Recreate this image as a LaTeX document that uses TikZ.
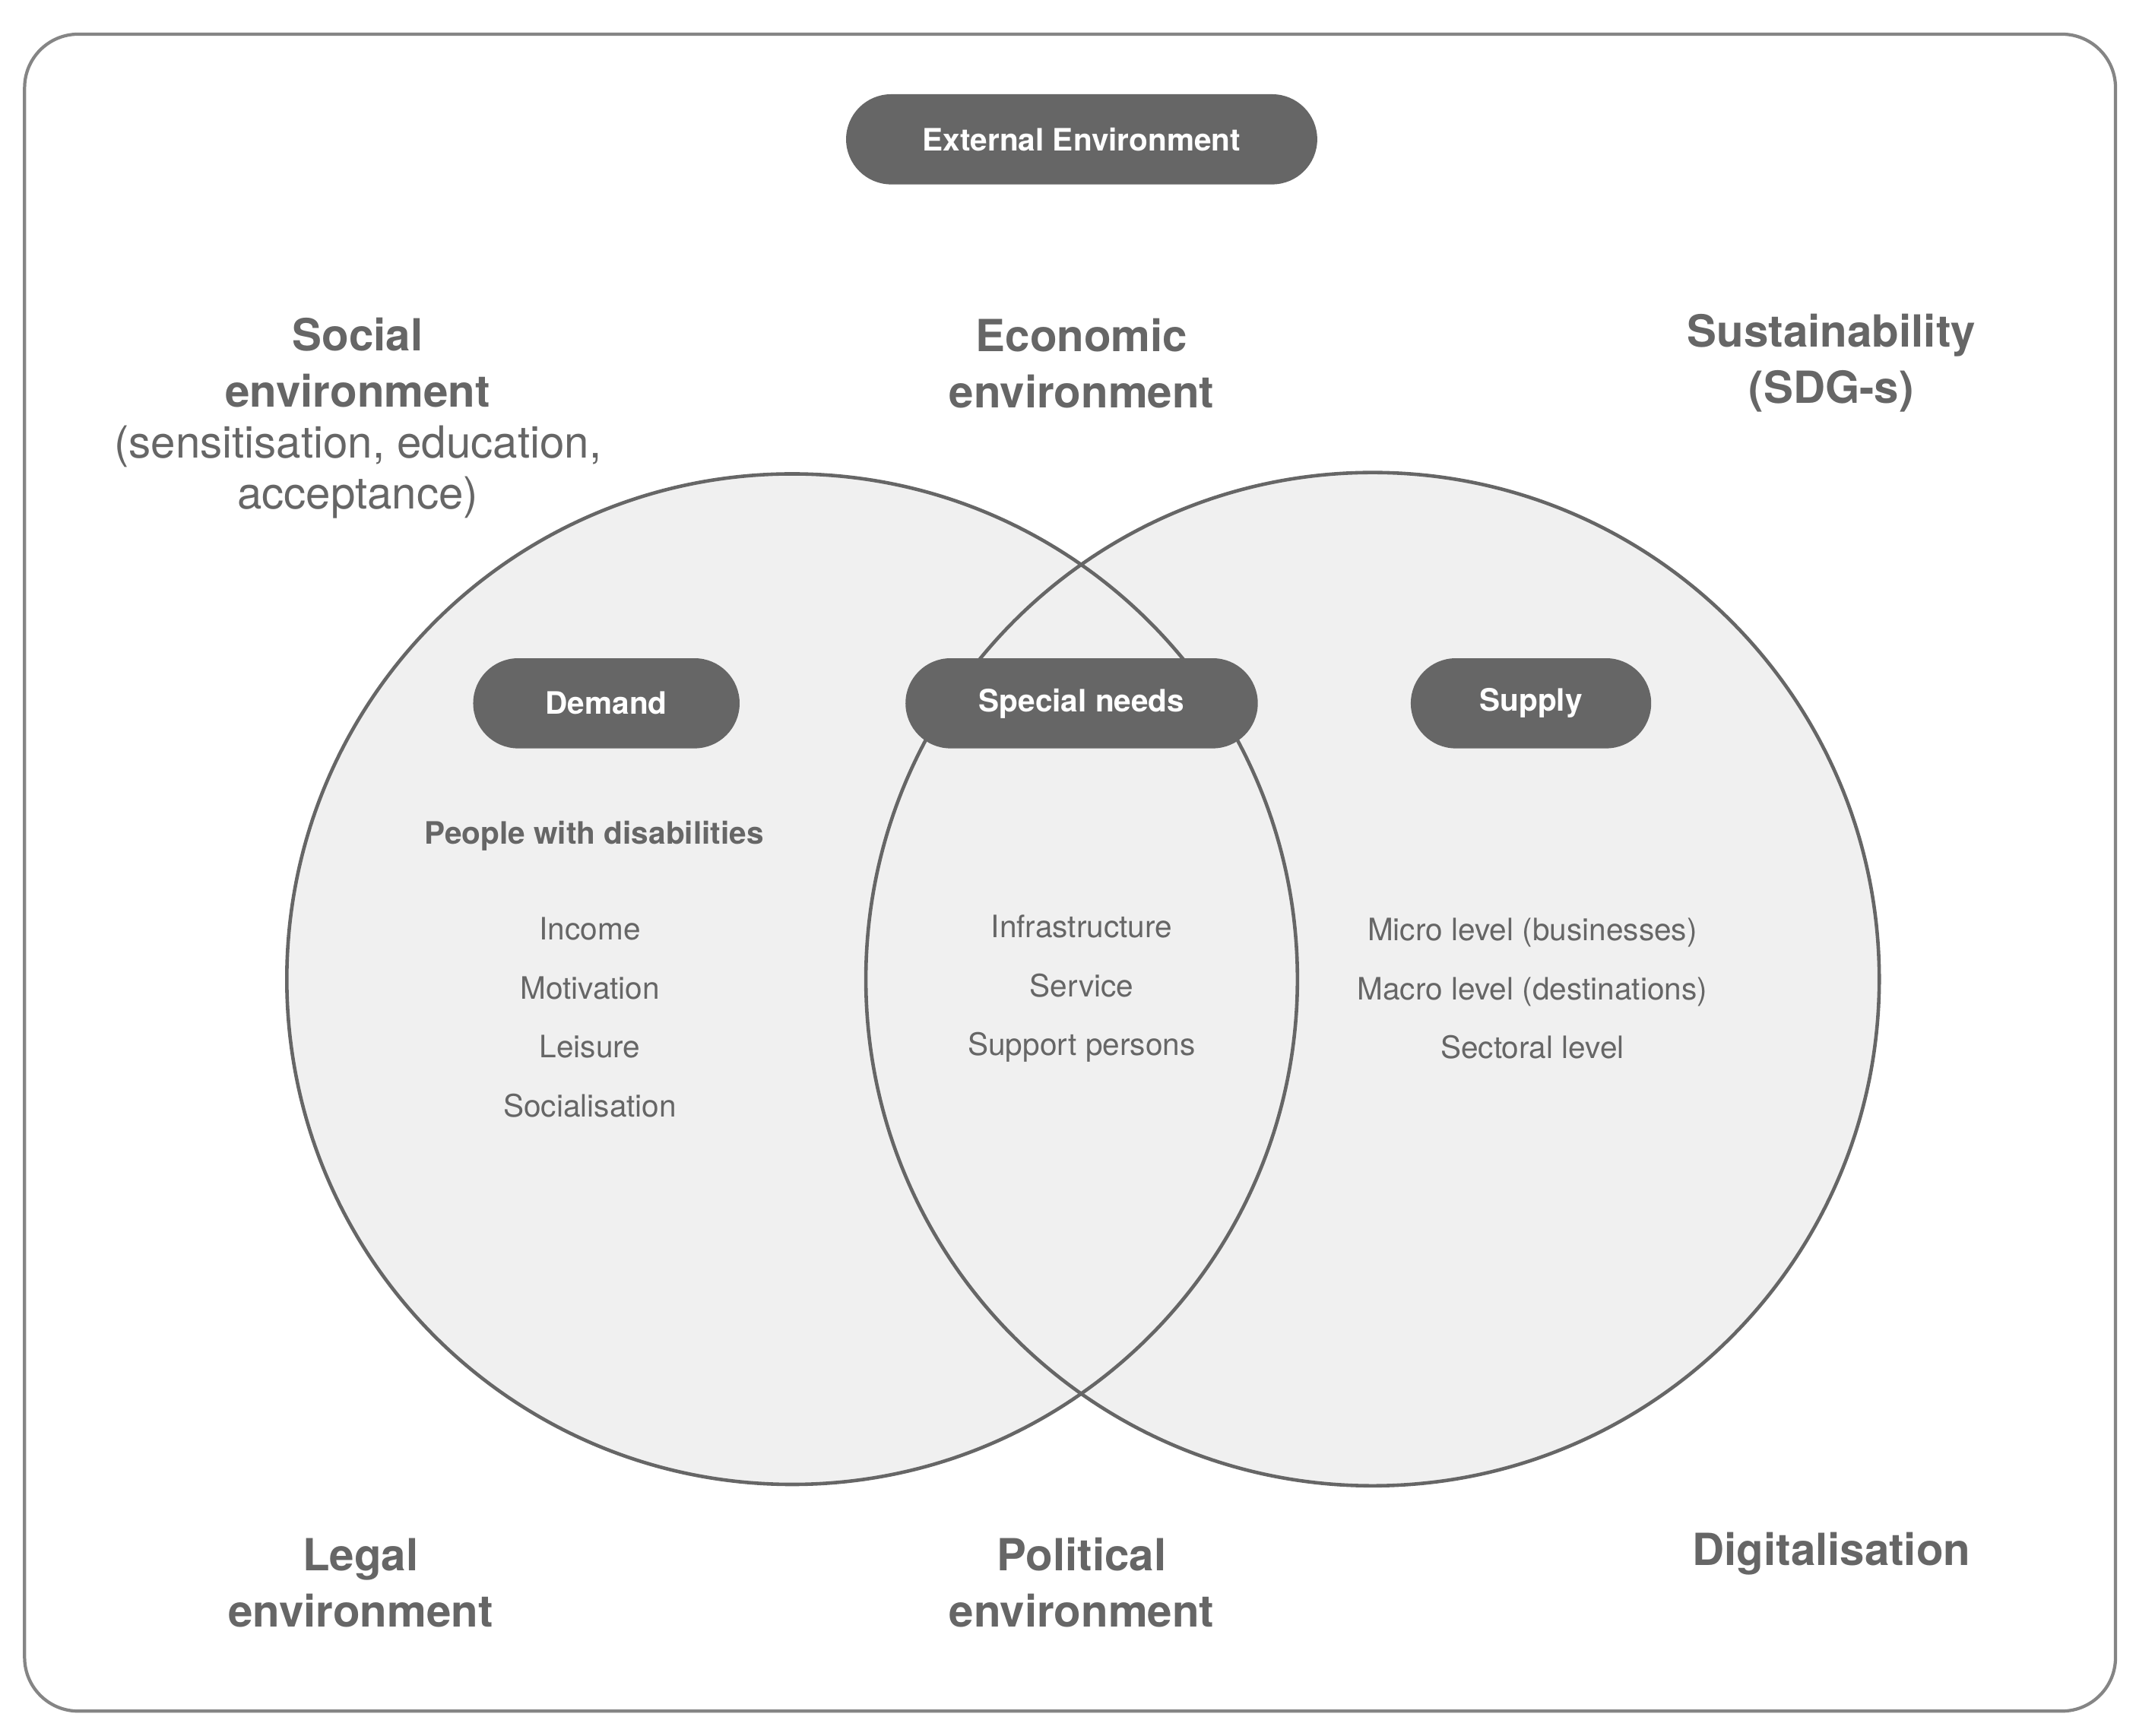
\documentclass[tikz,border=0pt]{standalone}
\usepackage{fontspec}
\setmainfont{TeX Gyre Heros}
\begin{document}
\begin{tikzpicture}[x={(0.509pt,0)},y={(0,-0.509pt)},
  pill/.style={rounded corners=33*0.509pt,fill=pillgray,text=white,font=\fontsize{11.5}{13}\selectfont\bfseries,minimum height=33.6pt,inner sep=0pt},
  head/.style={text=txtgray,font=\fontsize{16.5}{21}\selectfont\bfseries,align=center},
  item/.style={text=txtgray,font=\fontsize{11.5}{22}\selectfont,align=center}]
\definecolor{pillgray}{HTML}{666666}
\definecolor{txtgray}{HTML}{666666}
\definecolor{circfill}{HTML}{F0F0F0}
\useasboundingbox (0,0) rectangle (1564,1271);
\draw[line width=1.2pt,draw=txtgray!80,rounded corners=20pt] (18,25) rectangle (1549,1253);
\fill[circfill] (580,717) circle[radius=370];
\fill[circfill] (1005,717) circle[radius=371];
\draw[line width=1.3pt,draw=txtgray] (580,717) circle[radius=370];
\draw[line width=1.3pt,draw=txtgray] (1005,717) circle[radius=371];
\node[pill,minimum width=175.6pt] (ext) at (792,102) {External Environment};
\node[pill,minimum width=99.3pt] (dem) at (444,515) {Demand};
\node[pill,minimum width=131.3pt] (spn) at (792,515) {Special needs};
\node[pill,minimum width=89.6pt] (sup) at (1121,515) {Supply};
\node[head] (soc) at (262,306) {Social\\environment\\[-2pt]{\mdseries(sensitisation, education,}\\[-2pt]{\mdseries acceptance)}};
\node[head] (eco) at (792,266) {Economic\\environment};
\node[head] (sus) at (1341,266) {Sustainability\\(SDG-s)};
\node[head] (leg) at (264,1159) {Legal\\environment};
\node[head] (pol) at (792,1159) {Political\\environment};
\node[head] (dig) at (1341,1138) {Digitalisation};
\node[text=txtgray,font=\fontsize{11.5}{13}\selectfont\bfseries] (pwd) at (435,612) {People with disabilities};
\node[item] (dl) at (432,745) {Income\\Motivation\\Leisure\\Socialisation};
\node[item] (ml) at (792,724) {Infrastructure\\Service\\Support persons};
\node[item] (sl) at (1122,724) {Micro level (businesses)\\Macro level (destinations)\\Sectoral level};
\end{tikzpicture}
\end{document}
